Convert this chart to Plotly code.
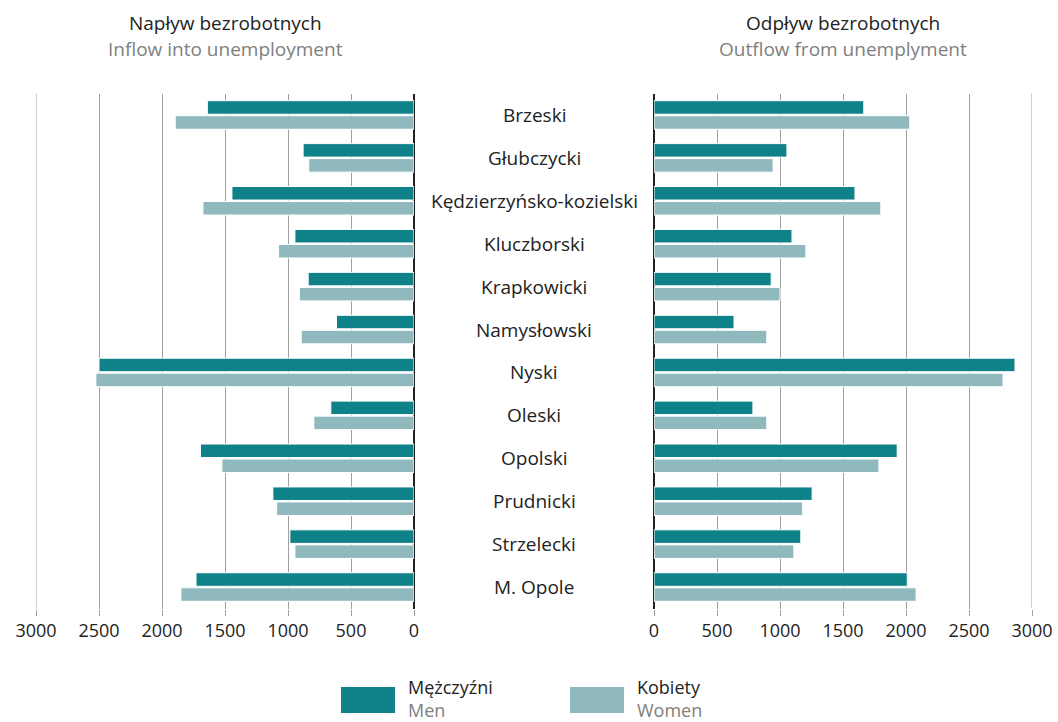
import plotly.graph_objects as go

categories = ["Brzeski", "Głubczycki", "Kędzierzyńsko-kozielski", "Kluczborski", "Krapkowicki",
              "Namysłowski", "Nyski", "Oleski", "Opolski", "Prudnicki", "Strzelecki", "M. Opole"]
inflow_men = [1640, 880, 1445, 945, 840, 615, 2500, 660, 1695, 1120, 985, 1730]
inflow_women = [1895, 835, 1675, 1075, 910, 895, 2525, 795, 1525, 1090, 945, 1850]
outflow_men = [1665, 1055, 1595, 1095, 930, 635, 2865, 785, 1930, 1255, 1165, 2010]
outflow_women = [2030, 945, 1800, 1205, 1000, 895, 2770, 895, 1785, 1180, 1110, 2080]
ticks = [0, 500, 1000, 1500, 2000, 2500, 3000]
AXIS_MAX = 3000

MEN = "#0f8188"
WOMEN = "#90b9be"
GRID = "#a0a0a0"
FONT = "Open Sans"
W, H = 1058, 722

def px(x):
    return x / W

def py(y):
    return 1 - y / H

fig = go.Figure()
common = dict(orientation="h", marker_line_color="white", marker_line_width=1,
              showlegend=False, hoverinfo="x+y")
fig.add_trace(go.Bar(y=categories, x=inflow_men, name="Mężczyźni", marker_color=MEN,
                     xaxis="x", yaxis="y", **common))
fig.add_trace(go.Bar(y=categories, x=inflow_women, name="Kobiety", marker_color=WOMEN,
                     xaxis="x", yaxis="y", **common))
fig.add_trace(go.Bar(y=categories, x=outflow_men, name="Mężczyźni", marker_color=MEN,
                     xaxis="x2", yaxis="y2", **common))
fig.add_trace(go.Bar(y=categories, x=outflow_women, name="Kobiety", marker_color=WOMEN,
                     xaxis="x2", yaxis="y2", **common))

xcommon = dict(tickvals=ticks, ticktext=[str(t) for t in ticks], showgrid=True,
               gridcolor=GRID, gridwidth=1, zeroline=True, zerolinecolor="#222222",
               zerolinewidth=1.5, ticks="outside", ticklen=6, tickcolor=GRID,
               tickfont=dict(family=FONT, size=18, color="#222222"), showline=False,
               automargin=False)
ycommon = dict(domain=[py(608.5), py(93.5)], categoryorder="array", categoryarray=categories,
               autorange="reversed", showticklabels=False, showgrid=False, zeroline=False,
               automargin=False)
fig.update_layout(
    template="none",
    width=W, height=H, autosize=False, margin=dict(l=0, r=0, t=0, b=0, pad=0),
    paper_bgcolor="white", plot_bgcolor="white",
    barmode="group", bargap=0.3, bargroupgap=0.1,
    xaxis=dict(domain=[px(36), px(414)], range=[AXIS_MAX, 0], anchor="y", **xcommon),
    xaxis2=dict(domain=[px(654), px(1032)], range=[0, AXIS_MAX], anchor="y2", **xcommon),
    yaxis=dict(anchor="x", **ycommon),
    yaxis2=dict(anchor="x2", **ycommon),
    font=dict(family=FONT),
    showlegend=False,
)

# outermost gridlines at the range edge (plotly omits gridlines on the edge)
for xr, yr in [("x", "y domain"), ("x2", "y2 domain")]:
    fig.add_shape(type="line", xref=xr, yref=yr, x0=AXIS_MAX, x1=AXIS_MAX, y0=0, y1=1,
                  line=dict(color=GRID, width=1), layer="below")

for c in categories:
    fig.add_annotation(x=px(534), y=c, xref="paper", yref="y", text=c, showarrow=False,
                       font=dict(family=FONT, size=19, color="#222222"), xanchor="center",
                       yanchor="middle")

titles = [(225, "Napływ bezrobotnych", "Inflow into unemployment"),
          (843, "Odpływ bezrobotnych", "Outflow from unemplyment")]
for x, t1, t2 in titles:
    fig.add_annotation(x=px(x), y=py(23), xref="paper", yref="paper", text=t1, showarrow=False,
                       font=dict(family=FONT, size=19, color="#222222"), xanchor="center", yanchor="middle")
    fig.add_annotation(x=px(x), y=py(49), xref="paper", yref="paper", text=t2, showarrow=False,
                       font=dict(family=FONT, size=19, color="#808080"), xanchor="center", yanchor="middle")

legend_items = [(341, MEN, "Mężczyźni", "Men"), (570, WOMEN, "Kobiety", "Women")]
for x, col, t1, t2 in legend_items:
    fig.add_shape(type="rect", xref="paper", yref="paper", x0=px(x), x1=px(x + 54),
                  y0=py(713), y1=py(687), fillcolor=col, line_width=0)
    fig.add_annotation(x=px(x + 66), y=py(698), xref="paper", yref="paper",
                       text=f"{t1}<br><span style='color:#808080'>{t2}</span>", showarrow=False,
                       align="left", font=dict(family=FONT, size=18, color="#222222"),
                       xanchor="left", yanchor="middle", borderpad=0)

fig.write_html("out.html", config={"displayModeBar": False},
               post_script="document.body.style.margin='0';")
